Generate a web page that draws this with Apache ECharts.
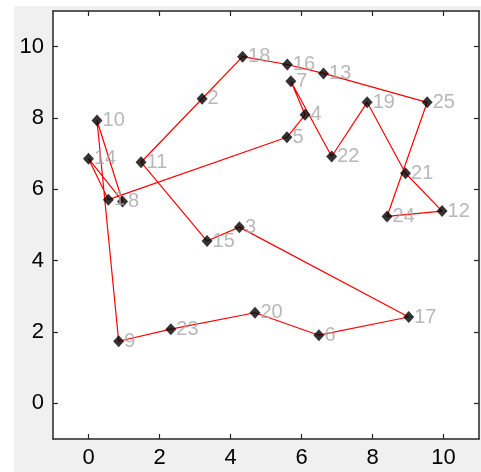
<!DOCTYPE html>
<html>
<head>
<meta charset="utf-8">
<script src="https://cdn.jsdelivr.net/npm/echarts@6/dist/echarts.min.js"></script>
<style>
html,body{margin:0;padding:0;background:#fff;width:481px;height:472px;overflow:hidden}
#c{position:absolute;left:14px;top:6px;width:467px;height:466px;background:#f0f0f0}
</style>
</head>
<body>
<div id="c"></div>
<script>
// City coordinates (city number = index + 1)
const cityX = [0.56, 3.20, 4.25, 6.10, 5.59, 6.49, 5.70, 0.96, 0.85, 0.24, 1.48, 9.96, 6.62, 0.00, 3.34, 5.60, 9.02, 4.34, 7.85, 4.69, 8.93, 6.85, 2.32, 8.41, 9.54];
const cityY = [5.71, 8.54, 4.94, 8.09, 7.46, 1.91, 9.03, 5.66, 1.74, 7.93, 6.76, 5.39, 9.25, 6.86, 4.55, 9.50, 2.42, 9.72, 8.44, 2.54, 6.45, 6.92, 2.08, 5.24, 8.44];
// Tour order (closed)
const tour = [5, 4, 7, 22, 19, 21, 12, 24, 25, 13, 16, 18, 2, 11, 15, 3, 17, 6, 20, 23, 9, 10, 8, 14, 1];
const tickValues = [0, 2, 4, 6, 8, 10];

const routeData = tour.concat([tour[0]]).map(c => [cityX[c - 1], cityY[c - 1]]);
const pointData = cityX.map((x, i) => ({ value: [x, cityY[i]], name: String(i + 1) }));

const axisColor = '#262626';
const font = 'Liberation Sans, Arial, sans-serif';
function mkAxis(pos, showLabel) {
  return {
    type: 'value', position: pos, min: -1, max: 11,
    axisLine: { show: true, onZero: false, lineStyle: { color: axisColor, width: 1.5 } },
    splitLine: { show: false },
    axisTick: { show: true, inside: true, length: 5, customValues: tickValues, lineStyle: { color: axisColor, width: 1.2 } },
    axisLabel: { show: showLabel, customValues: tickValues, color: '#000', fontSize: 22, fontFamily: font, margin: 8 }
  };
}
const chart = echarts.init(document.getElementById('c'), null, { renderer: 'canvas' });
const xb = mkAxis('bottom', true);
const xt = mkAxis('top', false);
const yl = mkAxis('left', true); yl.axisLabel.margin = 9;
const yr = mkAxis('right', false);
chart.setOption({
  animation: false,
  backgroundColor: '#f0f0f0',
  grid: { left: 39, top: 5, width: 426, height: 428, show: true, backgroundColor: '#fff', borderWidth: 0 },
  xAxis: [xb, xt],
  yAxis: [yl, yr],
  series: [
    {
      type: 'line', data: routeData, showSymbol: false, symbol: 'none',
      lineStyle: { color: '#ff0000', width: 1.2 }, z: 2
    },
    {
      type: 'scatter', data: pointData, symbol: 'diamond', symbolSize: [11, 12],
      itemStyle: { color: '#000' }, z: 3,
      label: {
        show: true, position: 'right', distance: 0, formatter: p => p.name,
        color: '#a6a6a6', fontSize: 20, fontFamily: font
      }
    }
  ]
});
</script>
</body>
</html>
